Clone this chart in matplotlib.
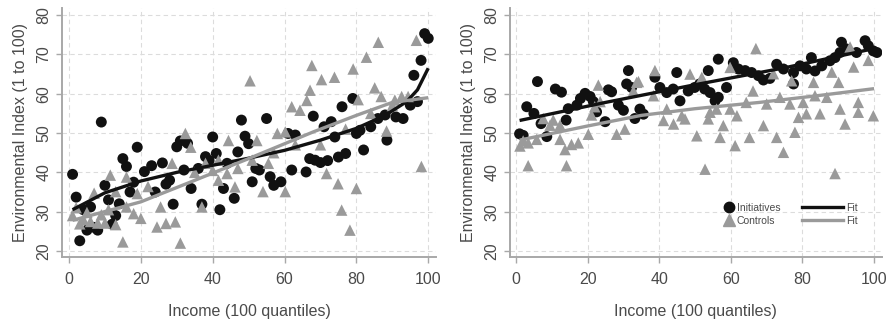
import numpy as np
import matplotlib
matplotlib.use("Agg")
import matplotlib.pyplot as plt
from matplotlib.lines import Line2D

plt.rcParams['font.family'] = ['Liberation Sans', 'DejaVu Sans']

# ---------------- data ----------------
# left panel, initiatives (black circles)
left_init_x = [1, 2, 3, 4, 5, 6, 7, 8, 9, 10, 11, 12, 13, 14, 15, 16, 17, 18, 19, 21,
               23, 24, 26, 27, 28, 29, 30, 31, 32, 33, 34, 36, 37, 38, 39, 40, 41, 42, 43, 44,
               46, 47, 48, 49, 50, 51, 52, 53, 55, 56, 57, 59, 61, 62, 63, 66, 67, 68, 68.5, 70,
               71, 72, 73, 74, 75, 76, 77, 79, 80, 81, 82, 84, 86, 88, 88.5, 91, 93, 95, 96, 97,
               98, 99, 100]
left_init_y = [39.5, 33.7, 22.6, 30.5, 25.3, 31.2, 26.0, 25.3, 52.8, 36.7, 33.0, 26.8, 29.0, 32.0, 43.5, 41.5, 35.0, 37.5, 46.4, 40.2,
               41.7, 35.0, 42.4, 37.0, 38.0, 31.9, 46.5, 48.0, 40.6, 47.4, 35.9, 41.0, 31.9, 44.0, 43.0, 49.0, 44.8, 30.5, 35.9, 42.3,
               33.4, 45.2, 53.3, 49.2, 47.3, 37.6, 41.0, 40.6, 53.7, 38.9, 36.7, 37.6, 49.9, 40.6, 49.5, 40.1, 43.5, 54.3, 43.1, 42.5,
               51.6, 43.0, 52.9, 49.0, 43.9, 56.7, 44.8, 58.8, 49.9, 50.7, 45.7, 51.6, 53.7, 54.6, 48.2, 54.1, 53.7, 57.1, 64.7, 58.0,
               68.5, 75.3, 74.1]

# left panel, controls (grey triangles)
left_ctrl_x = [1, 2, 3, 4, 5, 6, 7, 8, 9, 10, 11, 11.5, 13, 13, 15, 16, 16, 18, 19, 20,
               22, 24.5, 25.5, 27, 28.7, 29.6, 31, 32.4, 33.9, 35, 37, 38, 40, 41.6, 41.6, 44, 44.4, 46.2, 47, 50.4,
               51, 52.3, 54, 55.5, 57, 58, 60.2, 60.2, 62, 63, 64.3, 66.2, 67.1, 67.6, 70, 70.3, 71.7, 73.9, 74.9, 75.9,
               77, 78.2, 79.1, 80, 80.5, 82.8, 84, 85.1, 86.1, 86.9, 88.4, 90, 90.7, 92.6, 94.4, 96.7, 98.1]
left_ctrl_y = [29.0, 31.0, 26.9, 28.0, 29.8, 27.5, 34.7, 27.1, 29.2, 27.1, 30.5, 39.3, 26.7, 35.1, 22.3, 38.8, 31.2, 29.5, 34.6, 28.3,
               36.4, 26.1, 31.2, 27.0, 42.3, 27.4, 22.0, 49.9, 46.4, 40.0, 31.2, 42.3, 40.5, 43.1, 38.0, 39.7, 48.1, 36.3, 41.0, 63.3,
               43.1, 48.1, 35.1, 42.3, 45.0, 49.9, 50.3, 35.1, 56.7, 47.0, 55.8, 58.3, 60.9, 67.2, 47.0, 63.6, 39.7, 64.2, 37.1, 30.4,
               51.0, 25.3, 66.3, 35.9, 58.5, 69.3, 55.0, 61.5, 73.1, 59.3, 50.5, 57.0, 58.4, 59.3, 59.3, 73.6, 41.5]

# right panel, initiatives
right_init_x = [1, 2, 3, 5, 6, 7, 8.6, 11, 12.7, 14, 14.6, 17, 18, 19.3, 20.7, 21.6, 22.5, 24.9, 25.8, 26.7,
                28.6, 30, 30.9, 31.4, 32.3, 33.2, 34.6, 35.6, 38.8, 40.2, 42.1, 43.9, 44.9, 45.8, 48.1, 49.9, 51.3, 52.7, 53.7, 54.2,
                55.6, 56.5, 56.5, 58.8, 60.7, 62.1, 64, 65.8, 67.7, 69.1, 70.9, 72.8, 74.7, 77.5, 77.5, 79.3, 81.1, 82.5, 83.5, 85.4,
                87.7, 89.1, 90.5, 90.9, 92.3, 95.1, 97.5, 98.4, 99.8, 100.8]
right_init_y = [49.8, 49.4, 56.7, 55.0, 63.1, 52.4, 49.1, 61.2, 60.4, 53.3, 56.2, 57.1, 58.8, 60.1, 59.3, 58.0, 55.4, 52.9, 61.0, 60.5,
                57.1, 55.8, 62.5, 65.9, 61.6, 53.7, 56.1, 54.8, 64.2, 61.6, 60.3, 61.2, 65.4, 58.2, 60.7, 61.6, 62.5, 61.2, 65.9, 60.3,
                58.2, 59.1, 68.8, 61.6, 67.9, 66.3, 65.9, 65.4, 64.6, 63.5, 63.9, 67.5, 66.3, 65.4, 62.5, 67.1, 66.3, 69.2, 65.8, 67.1,
                68.4, 69.2, 70.5, 73.1, 71.4, 70.5, 73.5, 72.2, 70.9, 70.5]

# right panel, controls
right_ctrl_x = [1.1, 2, 3.4, 3.4, 5.8, 7.6, 9.5, 10.4, 12.3, 12.3, 13.7, 14.1, 15.5, 17.4, 20.2, 21.1, 22, 23, 23.5, 28.1,
                30.4, 32.8, 33.7, 34.2, 38.4, 38.8, 41.2, 42.1, 44, 46.3, 47.2, 48.6, 50.5, 51.9, 52.8, 53.7, 54.2, 56, 57, 57.9,
                59.8, 59.8, 61.2, 61.7, 64.3, 65.2, 66.2, 67, 69.1, 70, 71.9, 72.8, 73.7, 74.7, 76.5, 77, 77.9, 78.9, 80.2, 81.1,
                83.1, 83.5, 84.9, 86.8, 88.2, 89.1, 90.1, 90.5, 91.9, 93.3, 94.3, 95.6, 95.6, 98.4, 99.8]
right_ctrl_y = [46.7, 48.0, 47.5, 41.7, 48.4, 53.7, 52.0, 53.3, 48.4, 52.0, 45.8, 41.7, 47.1, 47.5, 49.7, 54.6, 56.7, 62.2, 58.0, 49.7,
                51.0, 60.7, 62.9, 63.1, 59.5, 65.9, 53.2, 56.1, 52.3, 54.4, 53.6, 65.0, 49.3, 64.2, 40.8, 53.6, 55.3, 56.1, 48.9, 51.9,
                66.7, 56.1, 46.8, 54.4, 57.8, 48.9, 60.7, 71.5, 51.9, 57.4, 65.1, 48.9, 59.1, 45.1, 57.4, 63.3, 50.2, 54.0, 57.8, 54.9,
                62.9, 59.5, 54.9, 59.1, 65.5, 39.7, 62.9, 56.1, 52.3, 71.9, 66.8, 57.8, 55.3, 68.5, 54.4]

# fitted curves as drawn in the figure
left_fit_init_x = [1, 10, 20, 30, 40, 50, 60, 70, 80, 88, 94, 97, 100]
left_fit_init_y = [30.5, 34.8, 37.8, 40.0, 41.8, 43.6, 45.6, 48.2, 51.2, 54.5, 58.0, 61.0, 66.5]
left_fit_ctrl_x = [1, 20, 34, 50, 68, 80, 90, 100]
left_fit_ctrl_y = [27.8, 32.5, 37.6, 43.5, 50.3, 54.5, 57.8, 59.0]
right_fit_init_x = [1, 25, 50, 75, 100]
right_fit_init_y = [53.2, 57.8, 62.3, 66.6, 71.5]
right_fit_ctrl_x = [1, 20, 35, 50, 68, 85, 100]
right_fit_ctrl_y = [48.2, 51.8, 54.5, 56.2, 57.8, 59.6, 61.3]

x_ticks = [0, 20, 40, 60, 80, 100]
y_ticks = [20, 30, 40, 50, 60, 70, 80]

BLACK = "#111111"
GREY = "#9a9a9a"
AXGREY = "#a8a8a8"
TXT = "#4a4a4a"

fig = plt.figure(figsize=(8.93, 3.22), dpi=100)
ax1 = fig.add_axes([0.0694, 0.2019, 0.419, 0.773])
ax2 = fig.add_axes([0.571, 0.2019, 0.4166, 0.773])

panels = [
    (ax1, left_init_x, left_init_y, left_ctrl_x, left_ctrl_y,
     left_fit_init_x, left_fit_init_y, left_fit_ctrl_x, left_fit_ctrl_y, (-1.95, 102.2)),
    (ax2, right_init_x, right_init_y, right_ctrl_x, right_ctrl_y,
     right_fit_init_x, right_fit_init_y, right_fit_ctrl_x, right_fit_ctrl_y, (-1.7, 102.2)),
]

for ax, ix, iy, cx, cy, fix, fiy, fcx, fcy, xl in panels:
    ax.scatter(ix, iy, s=62, marker='o', color=BLACK, edgecolors='none', zorder=3)
    ax.scatter(cx, cy, s=68, marker='^', color=GREY, edgecolors='none', zorder=3)
    ax.plot(fix, fiy, color=BLACK, lw=2.4, zorder=4, solid_capstyle='butt')
    ax.plot(fcx, fcy, color=GREY, lw=2.4, zorder=4, solid_capstyle='butt')
    ax.set_xlim(*xl)
    ax.set_ylim(18.47, 81.8)
    ax.set_xticks(x_ticks)
    ax.set_yticks(y_ticks)
    ax.grid(True, ls=(0, (4, 3)), color="#dcdcdc", lw=0.8)
    ax.set_axisbelow(True)
    for s in ["top", "right"]:
        ax.spines[s].set_visible(False)
    for s in ["left", "bottom"]:
        ax.spines[s].set_color(AXGREY)
        ax.spines[s].set_linewidth(1.4)
    ax.tick_params(colors=AXGREY, labelcolor=TXT, labelsize=11.5, length=4, width=1)
    ax.tick_params(axis='x', pad=7)
    plt.setp(ax.get_yticklabels(), rotation=90, va='center')
    ax.set_xlabel("Income (100 quantiles)", fontsize=11.5, color=TXT, labelpad=12)
    ax.set_ylabel("Environmental Index (1 to 100)", fontsize=11.5, color=TXT, labelpad=6)

# legend in right panel: markers column and fit-lines column
mk = [Line2D([], [], ls='none', marker='o', color=BLACK, ms=7.5),
      Line2D([], [], ls='none', marker='^', color=GREY, ms=8)]
leg1 = ax2.legend(mk, ["Initiatives", "Controls"], loc='center left',
                  bbox_to_anchor=(0.56, 0.172), frameon=False, fontsize=7.5,
                  handlelength=1.0, handletextpad=0.3, labelspacing=0.3,
                  borderpad=0, labelcolor=TXT)
ax2.add_artist(leg1)
ln = [Line2D([], [], color=BLACK, lw=2.4), Line2D([], [], color=GREY, lw=2.4)]
ax2.legend(ln, ["Fit", "Fit"], loc='center left', bbox_to_anchor=(0.77, 0.172),
           frameon=False, fontsize=7.5, handlelength=4.0, handletextpad=0.3,
           labelspacing=0.3, borderpad=0, labelcolor=TXT)

fig.savefig("out.png", dpi=100)
